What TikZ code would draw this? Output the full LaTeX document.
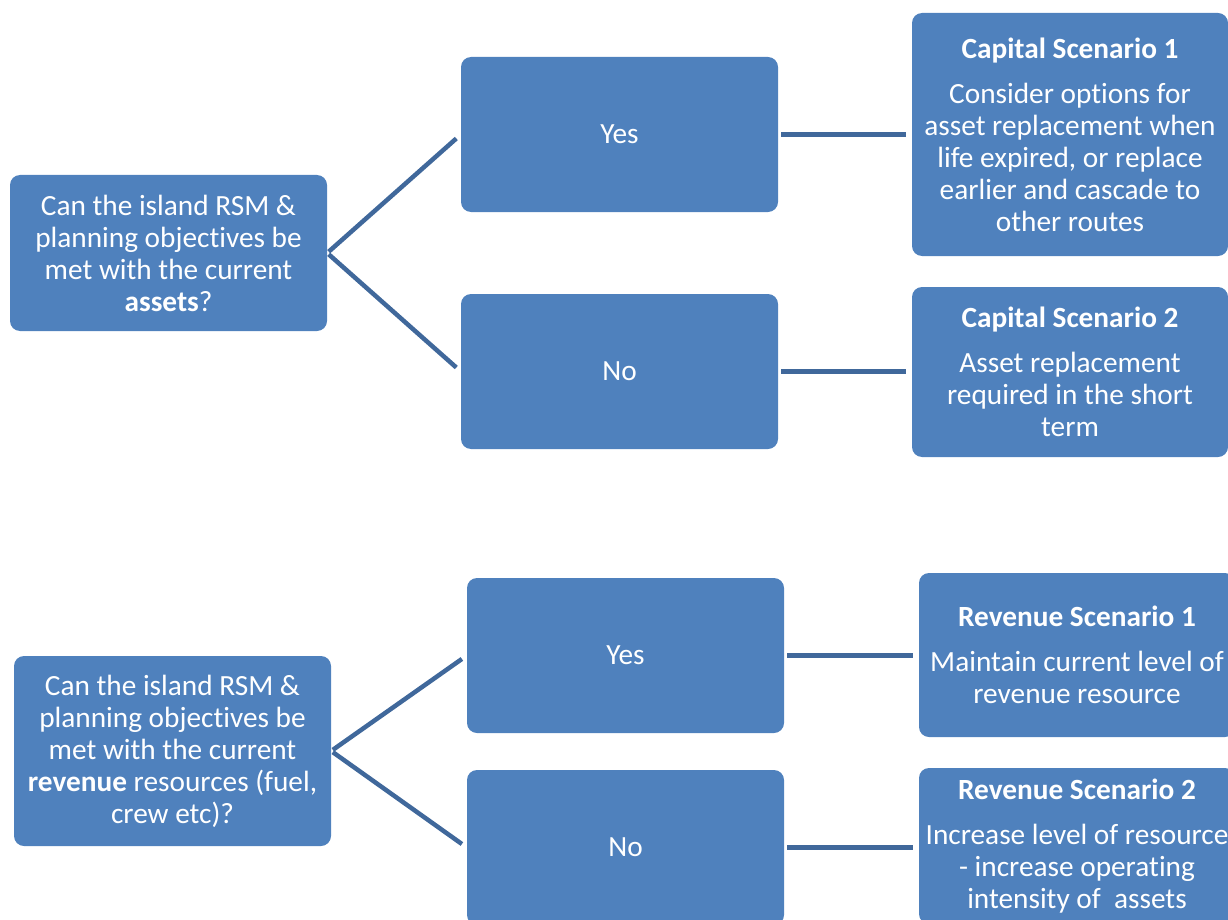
\documentclass[tikz,border=0pt]{standalone}
\usepackage{fontspec}
\setmainfont{Carlito}[Ligatures=NoCommon]
\usepackage{tikz}
\definecolor{boxblue}{RGB}{79,129,189}
\definecolor{linkblue}{RGB}{64,104,155}

\begin{document}
\begin{tikzpicture}
[x=1pt,y=-1pt
,box/.style={rectangle,rounded corners=10pt,fill=boxblue,text=white,align=center,inner sep=0pt,
  font=\fontsize{29.3}{32}\selectfont,minimum width=317pt,minimum height=155pt}
,scen/.style={box,minimum width=316pt}
,link/.style={draw=linkblue,line width=4.5pt,shorten <=2pt,shorten >=6pt}
]
\useasboundingbox (0,0) rectangle (1228,920);
% capital
\node[box,minimum height=156pt] (q1) at (168.5,253) {Can the island RSM \&\\planning objectives be\\met with the current\\\textbf{assets}?};
\node[box] (yes1) at (619.5,134.5) {Yes};
\node[box] (no1) at (619.5,371.5) {No};
\node[scen,minimum height=243pt] (cs1) at (1070,134.5) {\textbf{Capital Scenario 1}\\[13pt]Consider options for\\asset replacement when\\life expired, or replace\\earlier and cascade to\\other routes};
\node[scen,minimum height=170pt] (cs2) at (1070,372) {\textbf{Capital Scenario 2}\\[13pt]Asset replacement\\required in the short\\term};
\draw[link] (q1.east) -- (yes1.west);
\draw[link] (q1.east) -- (no1.west);
\draw[link,shorten <=3pt] (yes1) -- (cs1);
\draw[link,shorten <=3pt] (no1.east) -- (cs2.west |- no1.east);
% revenue
\node[box,minimum height=190pt] (q2) at (172.5,751) {Can the island RSM \&\\planning objectives be\\met with the current\\\textbf{revenue} resources (fuel,\\crew etc)?};
\node[box] (yes2) at (625.5,655.5) {Yes};
\node[box] (no2) at (625.5,847.5) {No};
\node[scen,minimum height=164pt] (rs1) at (1077,655) {\textbf{Revenue Scenario 1}\\[13pt]Maintain current level of\\revenue resource};
\node[scen,minimum height=156pt] (rs2) at (1077,846) {\textbf{Revenue Scenario 2}\\[13pt]Increase level of resource\\- increase operating\\intensity of\ \ assets};
\draw[link] (q2.east) -- (yes2.west);
\draw[link] (q2.east) -- (no2.west);
\draw[link,shorten <=3pt] (yes2.east) -- (rs1.west |- yes2.east);
\draw[link,shorten <=3pt] (no2.east) -- (rs2.west |- no2.east);
\end{tikzpicture}
\end{document}
